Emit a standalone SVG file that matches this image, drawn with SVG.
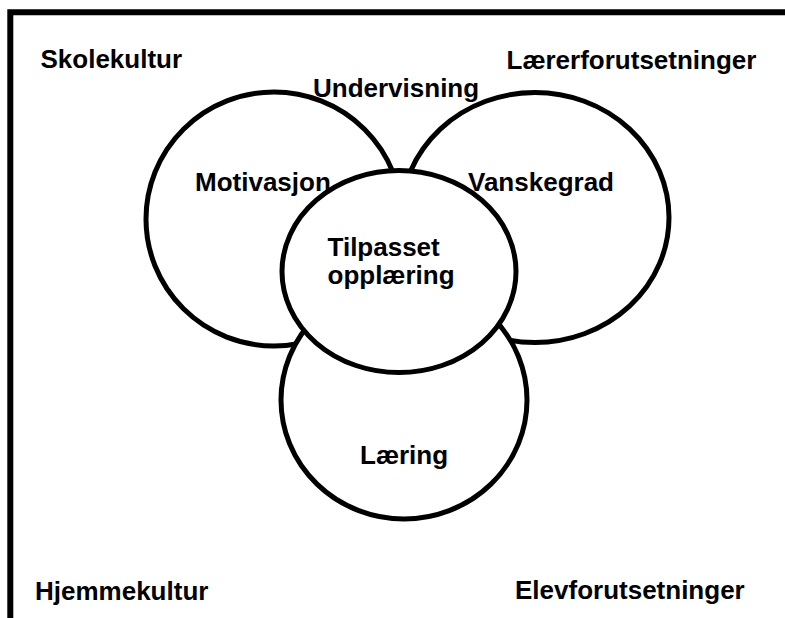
<svg xmlns="http://www.w3.org/2000/svg" width="785" height="618" viewBox="0 0 785 618">
<style>
.c{fill:#fff;stroke:#000;stroke-width:5}
.t{font-family:"Liberation Sans",Arial,sans-serif;font-weight:bold;font-size:26px;fill:#000}
.f{fill:none;stroke:#000;stroke-width:6}
</style>
<rect width="785" height="618" fill="#fff"/>
<g id="frame">
<path class="f" d="M10.3 618 V12.3 H785"/>
</g>
<g id="connectors"></g>
<g id="motivasjon"><ellipse class="c" cx="274" cy="219" rx="128" ry="127"/></g>
<g id="vanskegrad"><ellipse class="c" cx="535" cy="217.5" rx="134" ry="125"/></g>
<g id="laering"><ellipse class="c" cx="404" cy="400" rx="123" ry="119"/></g>
<g id="tilpasset"><ellipse class="c" cx="399" cy="271.6" rx="117" ry="101"/></g>
<g id="labels">
<text class="t" x="40.5" y="68">Skolekultur</text>
<text class="t" x="506.5" y="69">Lærerforutsetninger</text>
<text class="t" x="313" y="97">Undervisning</text>
<text class="t" x="195" y="191">Motivasjon</text>
<text class="t" x="468" y="191">Vanskegrad</text>
<text class="t" x="327.5" y="256">Tilpasset</text>
<text class="t" x="327.5" y="284">opplæring</text>
<text class="t" x="360" y="464">Læring</text>
<text class="t" x="35" y="600">Hjemmekultur</text>
<text class="t" x="515" y="599">Elevforutsetninger</text>
</g>
</svg>
